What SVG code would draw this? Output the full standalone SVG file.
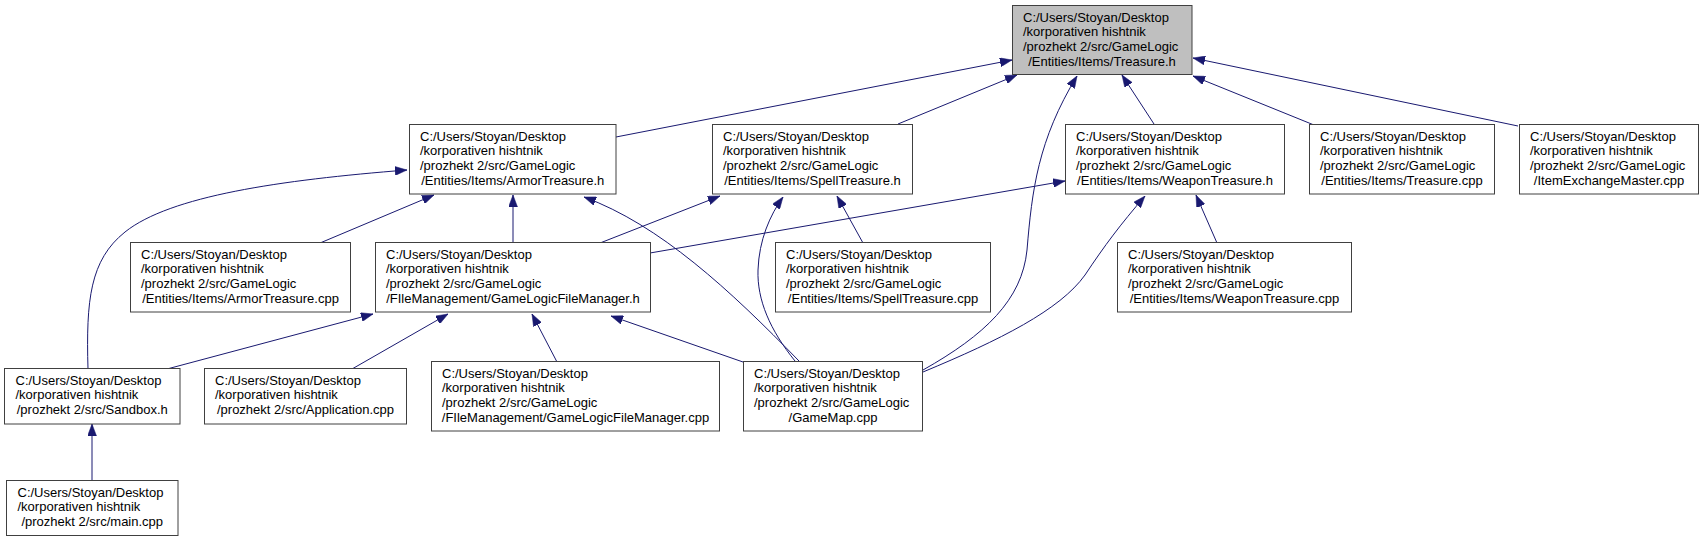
<svg xmlns="http://www.w3.org/2000/svg" width="1703" height="541" viewBox="0 0 1703 541">
<style>
.n rect{fill:#ffffff;stroke:#404040;stroke-width:1}
.root rect{fill:#bfbfbf}
text{font-family:"Liberation Sans",Arial,sans-serif;font-size:13px;fill:#000000}
.c{text-anchor:middle}
#edges path{fill:none;stroke:#191970;stroke-width:1;marker-end:url(#ah)}
</style>
<defs>
<marker id="ah" viewBox="0 0 12 9" refX="12" refY="4.5" markerWidth="12" markerHeight="9" markerUnits="userSpaceOnUse" orient="auto">
<path d="M0,0 L12,4.5 L0,9 z" fill="#191970" stroke="#191970" stroke-width="0.5"/>
</marker>
</defs>
<rect x="0" y="0" width="1703" height="541" fill="#ffffff"/>
<g id="edges">
<path d="M616,137 L1012,60"/>
<path d="M898,124 L1017,75"/>
<path d="M1154,124 L1122,75"/>
<path d="M1314,125 L1193,76"/>
<path d="M1518,126 L1193,58"/>
<path d="M923,370 C985,335 1022,300 1027,250 C1032,190 1038,140 1077,76"/>
<path d="M923,372 C1000,340 1060,310 1085,275 C1105,245 1120,225 1145,196"/>
<path d="M88,369 C86,300 90,260 125,232 C170,196 280,180 407,170"/>
<path d="M320,243 L434,195"/>
<path d="M513,243 L513,195"/>
<path d="M799,361 C730,290 660,225 584,197"/>
<path d="M600,243 L720,196"/>
<path d="M795,361 C770,330 757,300 758,270 C759,240 770,215 783,197"/>
<path d="M863,243 L837,196"/>
<path d="M650,253 L1065,181"/>
<path d="M1217,243 L1196,195"/>
<path d="M167,369 L373,314"/>
<path d="M352,369 L448,314"/>
<path d="M557,362 L532,314"/>
<path d="M743,362 L611,316"/>
<path d="M92,481 L92,424"/>
</g>
<g id="node-treasure-h" class="n root">
<rect x="1012.5" y="5.5" width="179.5" height="69"/>
<text><tspan x="1023" y="21.5">C:/Users/Stoyan/Desktop</tspan><tspan x="1023" y="36.2">/korporativen hishtnik</tspan><tspan x="1023" y="50.8">/prozhekt 2/src/GameLogic</tspan><tspan class="c" x="1102" y="65.5">/Entities/Items/Treasure.h</tspan></text>
</g>
<g id="node-armortreasure-h" class="n">
<rect x="409.5" y="124.5" width="206.5" height="69.5"/>
<text><tspan x="420" y="140.5">C:/Users/Stoyan/Desktop</tspan><tspan x="420" y="155.2">/korporativen hishtnik</tspan><tspan x="420" y="169.8">/prozhekt 2/src/GameLogic</tspan><tspan class="c" x="512.75" y="184.5">/Entities/Items/ArmorTreasure.h</tspan></text>
</g>
<g id="node-spelltreasure-h" class="n">
<rect x="712.5" y="124.5" width="200" height="69.5"/>
<text><tspan x="723" y="140.5">C:/Users/Stoyan/Desktop</tspan><tspan x="723" y="155.2">/korporativen hishtnik</tspan><tspan x="723" y="169.8">/prozhekt 2/src/GameLogic</tspan><tspan class="c" x="812.5" y="184.5">/Entities/Items/SpellTreasure.h</tspan></text>
</g>
<g id="node-weapontreasure-h" class="n">
<rect x="1065.5" y="124.5" width="219" height="69.5"/>
<text><tspan x="1076" y="140.5">C:/Users/Stoyan/Desktop</tspan><tspan x="1076" y="155.2">/korporativen hishtnik</tspan><tspan x="1076" y="169.8">/prozhekt 2/src/GameLogic</tspan><tspan class="c" x="1175" y="184.5">/Entities/Items/WeaponTreasure.h</tspan></text>
</g>
<g id="node-treasure-cpp" class="n">
<rect x="1309.5" y="124.5" width="185" height="69.5"/>
<text><tspan x="1320" y="140.5">C:/Users/Stoyan/Desktop</tspan><tspan x="1320" y="155.2">/korporativen hishtnik</tspan><tspan x="1320" y="169.8">/prozhekt 2/src/GameLogic</tspan><tspan class="c" x="1402" y="184.5">/Entities/Items/Treasure.cpp</tspan></text>
</g>
<g id="node-itemexchangemaster-cpp" class="n">
<rect x="1519.5" y="124.5" width="179" height="69.5"/>
<text><tspan x="1530" y="140.5">C:/Users/Stoyan/Desktop</tspan><tspan x="1530" y="155.2">/korporativen hishtnik</tspan><tspan x="1530" y="169.8">/prozhekt 2/src/GameLogic</tspan><tspan class="c" x="1609" y="184.5">/ItemExchangeMaster.cpp</tspan></text>
</g>
<g id="node-armortreasure-cpp" class="n">
<rect x="130.5" y="242.5" width="220" height="69.5"/>
<text><tspan x="141" y="258.5">C:/Users/Stoyan/Desktop</tspan><tspan x="141" y="273.2">/korporativen hishtnik</tspan><tspan x="141" y="287.8">/prozhekt 2/src/GameLogic</tspan><tspan class="c" x="240.5" y="302.5">/Entities/Items/ArmorTreasure.cpp</tspan></text>
</g>
<g id="node-gamelogicfilemanager-h" class="n">
<rect x="375.5" y="242.5" width="275" height="69.5"/>
<text><tspan x="386" y="258.5">C:/Users/Stoyan/Desktop</tspan><tspan x="386" y="273.2">/korporativen hishtnik</tspan><tspan x="386" y="287.8">/prozhekt 2/src/GameLogic</tspan><tspan class="c" x="513" y="302.5">/FIleManagement/GameLogicFileManager.h</tspan></text>
</g>
<g id="node-spelltreasure-cpp" class="n">
<rect x="775.5" y="242.5" width="215" height="69.5"/>
<text><tspan x="786" y="258.5">C:/Users/Stoyan/Desktop</tspan><tspan x="786" y="273.2">/korporativen hishtnik</tspan><tspan x="786" y="287.8">/prozhekt 2/src/GameLogic</tspan><tspan class="c" x="883" y="302.5">/Entities/Items/SpellTreasure.cpp</tspan></text>
</g>
<g id="node-weapontreasure-cpp" class="n">
<rect x="1117.5" y="242.5" width="234" height="69.5"/>
<text><tspan x="1128" y="258.5">C:/Users/Stoyan/Desktop</tspan><tspan x="1128" y="273.2">/korporativen hishtnik</tspan><tspan x="1128" y="287.8">/prozhekt 2/src/GameLogic</tspan><tspan class="c" x="1234.5" y="302.5">/Entities/Items/WeaponTreasure.cpp</tspan></text>
</g>
<g id="node-sandbox-h" class="n">
<rect x="4.5" y="368.5" width="175.5" height="55.5"/>
<text><tspan x="15.5" y="384.5">C:/Users/Stoyan/Desktop</tspan><tspan x="15.5" y="399.2">/korporativen hishtnik</tspan><tspan class="c" x="92.25" y="413.8">/prozhekt 2/src/Sandbox.h</tspan></text>
</g>
<g id="node-application-cpp" class="n">
<rect x="204.5" y="368.5" width="202" height="55.5"/>
<text><tspan x="215" y="384.5">C:/Users/Stoyan/Desktop</tspan><tspan x="215" y="399.2">/korporativen hishtnik</tspan><tspan class="c" x="305.5" y="413.8">/prozhekt 2/src/Application.cpp</tspan></text>
</g>
<g id="node-gamelogicfilemanager-cpp" class="n">
<rect x="431.5" y="361.5" width="288" height="69.5"/>
<text><tspan x="442" y="377.5">C:/Users/Stoyan/Desktop</tspan><tspan x="442" y="392.2">/korporativen hishtnik</tspan><tspan x="442" y="406.8">/prozhekt 2/src/GameLogic</tspan><tspan class="c" x="575.5" y="421.5">/FIleManagement/GameLogicFileManager.cpp</tspan></text>
</g>
<g id="node-gamemap-cpp" class="n">
<rect x="743.5" y="361.5" width="179" height="69.5"/>
<text><tspan x="754" y="377.5">C:/Users/Stoyan/Desktop</tspan><tspan x="754" y="392.2">/korporativen hishtnik</tspan><tspan x="754" y="406.8">/prozhekt 2/src/GameLogic</tspan><tspan class="c" x="833" y="421.5">/GameMap.cpp</tspan></text>
</g>
<g id="node-main-cpp" class="n">
<rect x="6.5" y="480.5" width="171.5" height="55"/>
<text><tspan x="17.5" y="496.5">C:/Users/Stoyan/Desktop</tspan><tspan x="17.5" y="511.2">/korporativen hishtnik</tspan><tspan class="c" x="92.25" y="525.8">/prozhekt 2/src/main.cpp</tspan></text>
</g>
</svg>
